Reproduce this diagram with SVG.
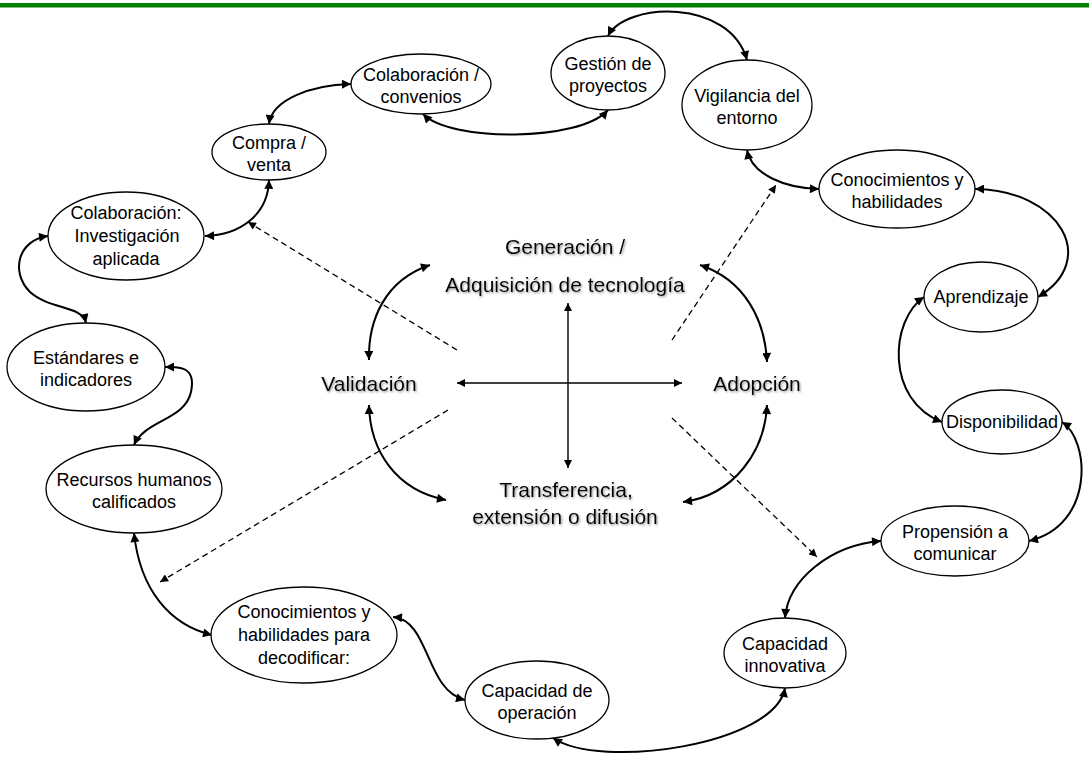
<svg xmlns="http://www.w3.org/2000/svg" width="1089" height="761" viewBox="0 0 1089 761">
<style>
.node ellipse{fill:#fff;stroke:#000;stroke-width:1.3}
.node text{font-family:"Liberation Sans",Arial,sans-serif;font-size:18px;fill:#000;text-anchor:middle}
.lbl{font-family:"Liberation Sans",Arial,sans-serif;font-size:21px;fill:#000;text-anchor:middle;filter:url(#sh)}
.c{fill:none;stroke:#000;stroke-width:2;marker-start:url(#ah);marker-end:url(#ah)}
.x{fill:none;stroke:#000;stroke-width:1.4;marker-start:url(#ah2);marker-end:url(#ah2)}
.d{fill:none;stroke:#000;stroke-width:1.3;stroke-dasharray:6,4;marker-end:url(#ah2)}
</style>
<defs>
<marker id="ah" viewBox="0 0 10 10" refX="10" refY="5" markerUnits="userSpaceOnUse" markerWidth="10" markerHeight="9" orient="auto-start-reverse"><path d="M0,0 L10,5 L0,10 z" fill="#000"/></marker>
<marker id="ah2" viewBox="0 0 10 10" refX="10" refY="5" markerUnits="userSpaceOnUse" markerWidth="9" markerHeight="8" orient="auto-start-reverse"><path d="M0,0 L10,5 L0,10 z" fill="#000"/></marker>
<filter id="sh" x="-10%" y="-30%" width="120%" height="160%"><feDropShadow dx="1" dy="1.2" stdDeviation="0.8" flood-color="#777" flood-opacity="0.8"/></filter>
</defs>
<rect x="0" y="3" width="1089" height="4.5" fill="#008000"/>

<g id="connectors">
<path class="c" d="M269,124 C272,100 310,85 351,84"/>
<path class="c" d="M269,180 C268,215 240,235 205,236"/>
<path class="c" d="M423,114 C450,142 580,142 608,110"/>
<path class="c" d="M608,36 C625,2 730,-2 747,60"/>
<path class="c" d="M747,150 C752,175 785,188 819,189"/>
<path class="c" d="M975,189 C1060,190 1100,260 1038,297"/>
<path class="c" d="M924,297 C890,320 885,400 942,422"/>
<path class="c" d="M1062,422 C1090,440 1095,525 1029,541"/>
<path class="c" d="M881,541 C830,545 788,580 785,618"/>
<path class="c" d="M785,688 C775,745 600,770 553,738"/>
<path class="c" d="M393,617 C430,620 425,690 465,700"/>
<path class="c" d="M212,635 C170,625 140,590 134,533"/>
<path class="c" d="M134,445 C145,420 185,420 191,392 S175,367 165,367"/>
<path class="c" d="M86,323 C82,305 50,310 30,292 C10,272 18,240 48,236"/>
<path class="c" d="M369,360 C368,320 385,280 430,265"/>
<path class="c" d="M369,405 C370,450 395,490 446,500"/>
<path class="c" d="M700,265 C745,280 765,320 767,362"/>
<path class="c" d="M767,405 C765,450 735,495 683,502"/>
<path class="x" d="M457,383 L682,383"/>
<path class="x" d="M568,303 L568,468"/>
<path class="d" d="M457,350 L248,222"/>
<path class="d" d="M448,410 L160,582"/>
<path class="d" d="M672,340 L776,185"/>
<path class="d" d="M672,418 L817,557"/>
</g>

<g id="center-labels">
<text class="lbl" x="565" y="254">Generación /</text>
<text class="lbl" x="565" y="292">Adquisición de tecnología</text>
<text class="lbl" x="369" y="391">Validación</text>
<text class="lbl" x="757" y="391">Adopción</text>
<text class="lbl" x="566" y="497">Transferencia,</text>
<text class="lbl" x="565" y="524">extensión o difusión</text>
</g>

<g id="n_convenios" class="node"><ellipse cx="421" cy="84" rx="70" ry="30"/><text x="421" y="81">Colaboración /</text><text x="421" y="103">convenios</text></g>
<g id="n_gestion" class="node"><ellipse cx="608" cy="73" rx="57" ry="37"/><text x="608" y="70">Gestión de</text><text x="608" y="92">proyectos</text></g>
<g id="n_vigilancia" class="node"><ellipse cx="747" cy="105" rx="65" ry="45"/><text x="747" y="102">Vigilancia del</text><text x="747" y="124">entorno</text></g>
<g id="n_compra" class="node"><ellipse cx="269" cy="152" rx="57" ry="28"/><text x="269" y="149">Compra /</text><text x="269" y="171">venta</text></g>
<g id="n_colinv" class="node"><ellipse cx="126" cy="236" rx="78" ry="44"/><text x="126" y="219">Colaboración:</text><text x="127" y="242">Investigación</text><text x="126" y="265">aplicada</text></g>
<g id="n_estandares" class="node"><ellipse cx="86" cy="367" rx="79" ry="44"/><text x="86" y="364">Estándares e</text><text x="86" y="386">indicadores</text></g>
<g id="n_recursos" class="node"><ellipse cx="134" cy="489" rx="88" ry="44"/><text x="134" y="486">Recursos humanos</text><text x="134" y="508">calificados</text></g>
<g id="n_decod" class="node"><ellipse cx="304" cy="635" rx="93" ry="48"/><text x="304" y="618">Conocimientos y</text><text x="304" y="641">habilidades para</text><text x="304" y="664">decodificar:</text></g>
<g id="n_capop" class="node"><ellipse cx="537" cy="700" rx="72" ry="39"/><text x="537" y="697">Capacidad de</text><text x="537" y="719">operación</text></g>
<g id="n_capinn" class="node"><ellipse cx="785" cy="653" rx="61" ry="35"/><text x="785" y="650">Capacidad</text><text x="785" y="672">innovativa</text></g>
<g id="n_propension" class="node"><ellipse cx="955" cy="541" rx="74" ry="35"/><text x="955" y="538">Propensión a</text><text x="955" y="560">comunicar</text></g>
<g id="n_disponibilidad" class="node"><ellipse cx="1002" cy="422" rx="60" ry="32"/><text x="1002" y="428">Disponibilidad</text></g>
<g id="n_aprendizaje" class="node"><ellipse cx="981" cy="297" rx="57" ry="35"/><text x="981" y="303">Aprendizaje</text></g>
<g id="n_conochab" class="node"><ellipse cx="897" cy="189" rx="78" ry="39"/><text x="897" y="186">Conocimientos y</text><text x="897" y="208">habilidades</text></g>
</svg>
